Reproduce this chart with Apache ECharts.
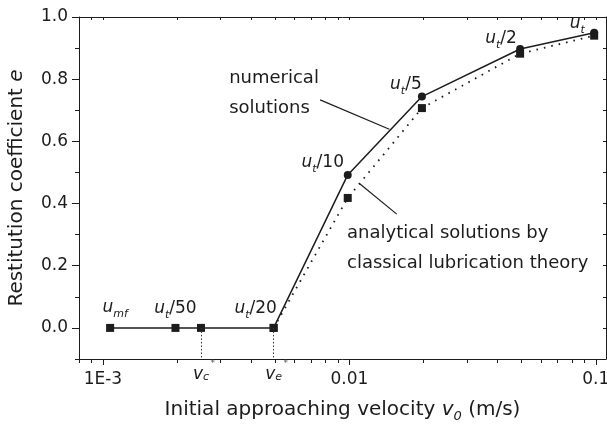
<!DOCTYPE html>
<html>
<head>
<meta charset="utf-8">
<script src="https://cdn.jsdelivr.net/npm/echarts@6/dist/echarts.min.js"></script>
<style>
  html, body { margin: 0; padding: 0; background: #fff; }
  #chart { width: 607px; height: 424px; }
</style>
</head>
<body>
<div id="chart"></div>
<script>
// Initial approaching velocity (m/s) of the simulated cases
const velocities = [0.00107, 0.00197, 0.0025, 0.00493, 0.00985, 0.0197, 0.0493, 0.0985];
// Restitution coefficient from the numerical solutions
const eNumerical = [0, 0, 0, 0, 0.492, 0.744, 0.897, 0.949];
// Restitution coefficient from classical lubrication theory
const velocitiesAnalytical = [0.00493, 0.00985, 0.0197, 0.0493, 0.0985];
const eAnalytical = [0, 0.418, 0.707, 0.882, 0.940];
// Case names written next to the numerical points
const pointNames = ['u_mf', 'u_t/50', '', 'u_t/20', 'u_t/10', 'u_t/5', 'u_t/2', 'u_t'];
// Critical velocities v_c* and v_e*
const vCritical = 0.0025;
const vElastic = 0.00493;
// Axis ticks
const xMajorTicks = [0.001, 0.01, 0.1];
const xMajorLabels = ['1E-3', '0.01', '0.1'];
const xMinorTicks = [0.0008, 0.0009, 0.002, 0.003, 0.004, 0.005, 0.006, 0.007, 0.008, 0.009,
                     0.02, 0.03, 0.04, 0.05, 0.06, 0.07, 0.08, 0.09];
const yMajorTicks = [0, 0.2, 0.4, 0.6, 0.8, 1.0];
const yMinorTicks = [-0.1, 0.1, 0.3, 0.5, 0.7, 0.9];
// Callout texts and where they sit (data coordinates)
const noteNumerical = { text: 'numerical\nsolutions', at: [0.003253, 0.756] };
const noteAnalytical = { text: 'analytical solutions by\nclassical lubrication theory', at: [0.009788, 0.257] };
const leaderNumerical = [[0.00761, 0.7336], [0.01453, 0.639]];
const leaderAnalytical = [[0.01105, 0.463], [0.01557, 0.366]];

const FONT = 'DejaVu Sans';
const INK = '#1c1c1c';
const X_MIN = 0.0008, X_MAX = 0.11, Y_MIN = -0.1, Y_MAX = 1.0;

// label placement around each numerical point (pixels)
const labelOffsets = [[5, -20], [0, -19], null, [-18, -19], [-25, -12], [-16, -12], [-19, -10], [-17, -9]];

const pointRich = {
  u: { fontFamily: FONT, fontStyle: 'italic', fontSize: 17, lineHeight: 24, color: INK },
  s: { fontFamily: FONT, fontStyle: 'italic', fontSize: 11, lineHeight: 12, verticalAlign: 'bottom', color: INK },
  n: { fontFamily: FONT, fontSize: 17, lineHeight: 24, color: INK }
};
function toRich(name) {
  const m = name.match(/^u_(mf|t)(.*)$/);
  return '{u|u}{s|' + m[1] + '}' + (m[2] ? '{n|' + m[2] + '}' : '');
}

const numericalData = velocities.map((v, i) => ({
  value: [v, eNumerical[i]],
  symbol: eNumerical[i] === 0 ? 'rect' : 'circle',
  symbolSize: 8,
  label: pointNames[i]
    ? { show: true, position: 'inside', offset: labelOffsets[i], formatter: toRich(pointNames[i]), rich: pointRich }
    : { show: false }
}));
const analyticalData = velocitiesAnalytical.map((v, i) => [v, eAnalytical[i]]);

const axisLine = { show: true, onZero: false, lineStyle: { color: INK, width: 1 } };
const noLine = { show: false, onZero: false };
const tickStyle = { color: INK, width: 1 };
const tickFont = { fontFamily: FONT, fontSize: 17, color: INK };

// Tick-only helper axes run in decades (log10 of velocity) over the same span as the data axis
const lg = Math.log10;
function decadeAxis(extra) {
  return Object.assign({
    type: 'value', min: lg(X_MIN), max: lg(X_MAX), gridIndex: 0,
    splitLine: { show: false }, minorTick: { show: false }
  }, extra);
}
function yBase(extra) {
  return Object.assign({
    type: 'value', min: Y_MIN, max: Y_MAX, gridIndex: 0,
    splitLine: { show: false }, minorTick: { show: false }
  }, extra);
}
const near = (a, b) => Math.abs(a - b) < 1e-6;

const option = {
  backgroundColor: '#fff',
  animation: false,
  grid: { left: 79, right: 1, top: 17, bottom: 65, containLabel: false, outerBoundsMode: 'none' },
  xAxis: [
    {
      type: 'log', logBase: 10, min: X_MIN, max: X_MAX, gridIndex: 0,
      position: 'bottom',
      splitLine: { show: false }, minorTick: { show: false },
      axisLine: axisLine,
      axisTick: { show: false },
      axisLabel: { show: false },
      name: '{t|Initial approaching velocity }{v|v}{s|0}{t| (m/s)}',
      nameLocation: 'middle', nameGap: 38, nameMoveOverlap: false,
      nameTextStyle: {
        rich: {
          t: { fontFamily: FONT, fontSize: 20, lineHeight: 26, color: INK },
          v: { fontFamily: FONT, fontStyle: 'italic', fontSize: 20, lineHeight: 26, color: INK },
          s: { fontFamily: FONT, fontStyle: 'italic', fontSize: 13, lineHeight: 14, verticalAlign: 'bottom', color: INK }
        }
      }
    },
    decadeAxis({
      position: 'bottom',
      axisLine: noLine,
      axisTick: { show: true, inside: false, length: 6, customValues: xMajorTicks.map(lg), lineStyle: tickStyle },
      axisLabel: Object.assign({
        show: true, margin: 12, customValues: xMajorTicks.map(lg),
        formatter: (v) => xMajorLabels[xMajorTicks.findIndex(t => near(lg(t), v))]
      }, tickFont)
    }),
    decadeAxis({
      position: 'bottom',
      axisLine: noLine,
      axisTick: { show: true, inside: false, length: 4, customValues: xMinorTicks.map(lg), lineStyle: tickStyle },
      axisLabel: {
        show: true, margin: 0, customValues: [lg(vCritical), lg(vElastic)], padding: [0, 0, 0, 6],
        formatter: (v) => '{v|v}{s|' + (near(v, lg(vCritical)) ? 'c' : 'e') + '}{a|*}',
        rich: {
          v: { fontFamily: FONT, fontStyle: 'italic', fontSize: 17, lineHeight: 24, verticalAlign: 'bottom', color: INK },
          s: { fontFamily: FONT, fontStyle: 'italic', fontSize: 11, lineHeight: 16, verticalAlign: 'bottom', color: INK },
          a: { fontFamily: FONT, fontSize: 9, lineHeight: 6, verticalAlign: 'top', padding: [0, 0, 0, 1.5], color: '#555' }
        }
      }
    }),
    decadeAxis({
      position: 'top',
      axisLine: axisLine,
      axisTick: { show: true, inside: true, length: 3, customValues: xMajorTicks.concat(xMinorTicks).map(lg), lineStyle: tickStyle },
      axisLabel: { show: false }
    })
  ],
  yAxis: [
    yBase({
      position: 'left',
      axisLine: axisLine,
      axisTick: { show: true, inside: false, length: 7, customValues: yMajorTicks, lineStyle: tickStyle },
      axisLabel: Object.assign({ show: true, margin: 11, customValues: yMajorTicks, formatter: (v) => v.toFixed(1) }, tickFont),
      name: 'Restitution coefficient {i|e}',
      nameLocation: 'middle', nameGap: 52, nameMoveOverlap: false,
      nameTextStyle: {
        fontFamily: FONT, fontSize: 20, color: INK,
        rich: { i: { fontFamily: FONT, fontStyle: 'italic', fontSize: 20, color: INK } }
      }
    }),
    yBase({
      position: 'left',
      axisLine: noLine,
      axisTick: { show: true, inside: false, length: 4, customValues: yMinorTicks, lineStyle: tickStyle },
      axisLabel: { show: false }
    }),
    yBase({
      position: 'right',
      axisLine: axisLine,
      axisTick: { show: true, inside: true, length: 3, customValues: yMajorTicks.concat(yMinorTicks), lineStyle: tickStyle },
      axisLabel: { show: false }
    })
  ],
  series: [
    {
      name: 'analytical solutions by classical lubrication theory',
      type: 'line', xAxisIndex: 0, yAxisIndex: 0,
      data: analyticalData,
      symbol: 'rect', symbolSize: 8,
      itemStyle: { color: INK },
      lineStyle: { color: INK, width: 1.8, type: [1.6, 6] },
      z: 3
    },
    {
      name: 'numerical solutions',
      type: 'line', xAxisIndex: 0, yAxisIndex: 0,
      data: numericalData,
      itemStyle: { color: INK },
      lineStyle: { color: INK, width: 1.5 },
      z: 4,
      markLine: {
        silent: true, symbol: ['none', 'none'], label: { show: false },
        lineStyle: { color: '#333', width: 1, type: [1.5, 2] },
        data: [
          [{ coord: [vCritical, 0] }, { coord: [vCritical, Y_MIN] }],
          [{ coord: [vElastic, 0] }, { coord: [vElastic, Y_MIN] }]
        ]
      }
    },
    {
      name: 'callouts',
      type: 'line', xAxisIndex: 0, yAxisIndex: 0,
      data: [],
      markLine: {
        silent: true, symbol: ['none', 'none'], label: { show: false },
        lineStyle: { color: INK, width: 1.2, type: 'solid' },
        data: [
          [{ coord: leaderNumerical[0] }, { coord: leaderNumerical[1] }],
          [{ coord: leaderAnalytical[0] }, { coord: leaderAnalytical[1] }]
        ]
      }
    },
    {
      name: 'notes',
      type: 'scatter', xAxisIndex: 0, yAxisIndex: 0,
      symbolSize: 0, itemStyle: { color: INK, opacity: 1 },
      silent: true,
      data: [
        { value: noteNumerical.at, label: { formatter: noteNumerical.text } },
        { value: noteAnalytical.at, label: { formatter: noteAnalytical.text } }
      ],
      label: {
        show: true, position: 'right', distance: 0, align: 'left', verticalAlign: 'middle',
        fontFamily: FONT, fontSize: 18, lineHeight: 30, color: INK
      }
    }
  ]
};

const chart = echarts.init(document.getElementById('chart'), null, { renderer: 'canvas' });
chart.setOption(option);
</script>
</body>
</html>
